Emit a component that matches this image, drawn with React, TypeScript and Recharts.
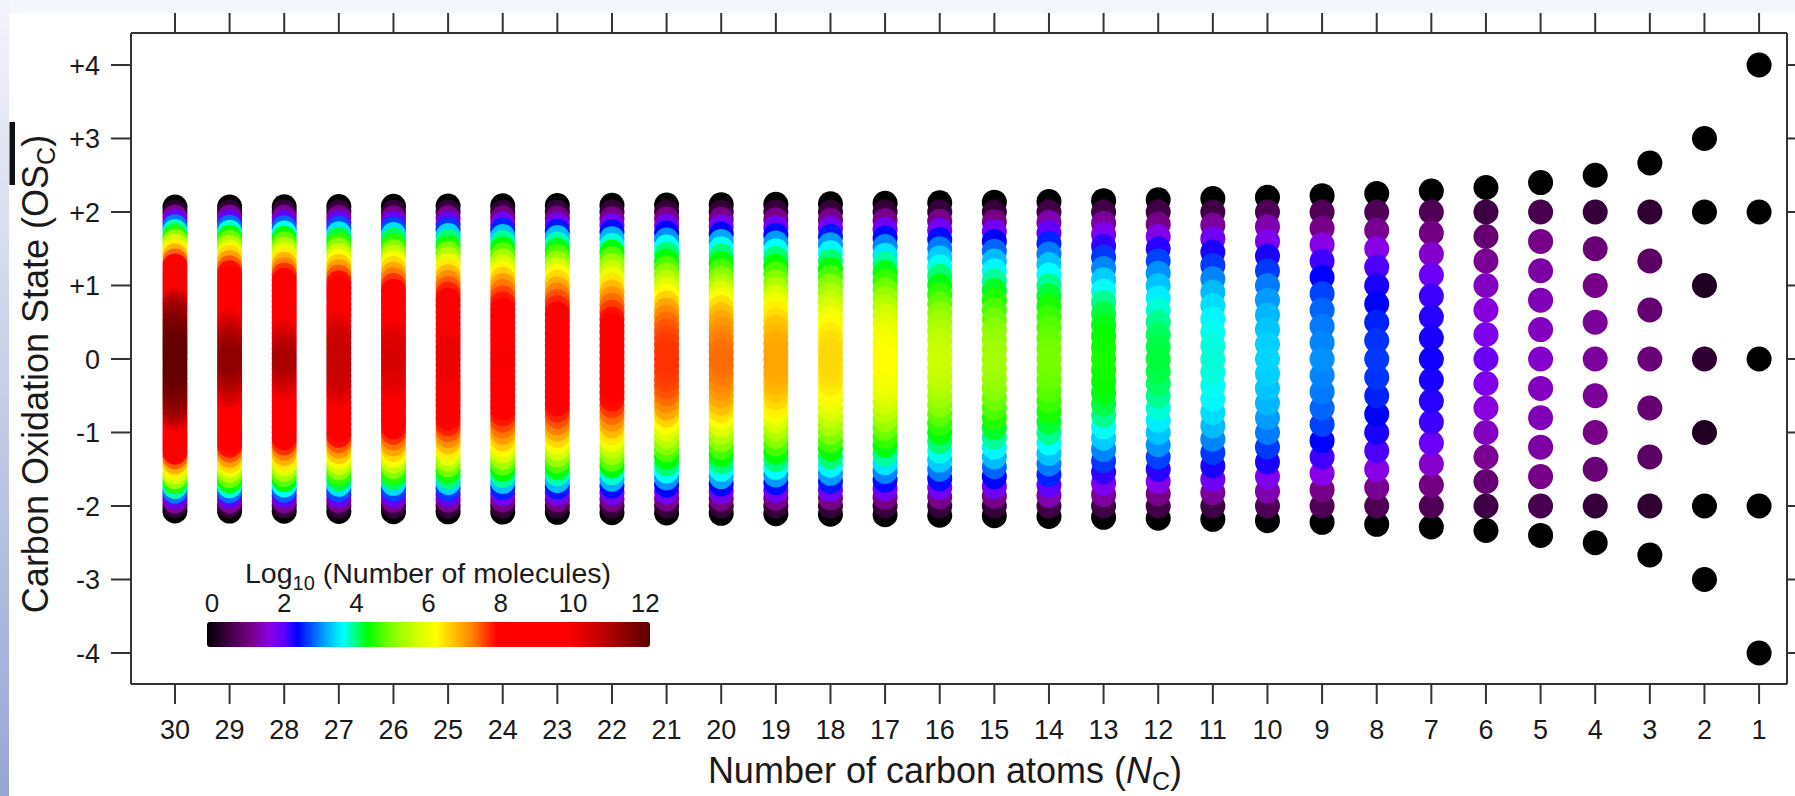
import { ScatterChart, Scatter, XAxis, YAxis } from 'recharts';

// log10(number of molecules) per carbon number, listed from the outermost
// oxidation state (±(2 + 2/Nc)) inward to OS = 0; each column is symmetric
const nc1 = [0, 0, 0];
const nc2 = [0, 0, 0.3, 0.45];
const nc3 = [0, 0.45, 0.9, 1.0, 1.05];
const nc4 = [0, 0.5, 1.05, 1.2, 1.28, 1.3];
const nc5 = [0, 0.7, 1.2, 1.35, 1.45, 1.5, 1.55];
const nc6 = [0, 0.6, 1.0, 1.25, 1.5, 1.65, 1.8, 1.95];
const nc7 = [0, 0.75, 1.15, 1.55, 1.95, 2.2, 2.3, 2.35, 2.38];
const nc8 = [0, 0.75, 1.25, 1.7, 2.15, 2.35, 2.45, 2.6, 2.68, 2.7];
const nc9 = [0, 0.75, 1.2, 1.7, 2.2, 2.45, 2.75, 2.9, 3.0, 3.05, 3.1];
const nc10 = [0, 0.75, 1.4, 1.8, 2.35, 2.7, 3.0, 3.15, 3.28, 3.36, 3.42, 3.45];
const nc11 = [0, 0.6, 1.3, 1.9, 2.35, 2.7, 3.05, 3.3, 3.5, 3.65, 3.73, 3.78, 3.8];
const nc12 = [0, 0.6, 1.2, 1.75, 2.3, 2.75, 3.1, 3.35, 3.6, 3.8, 3.98, 4.1, 4.17, 4.2];
const nc13 = [0, 0.6, 1.3, 1.8, 2.25, 2.7, 3.05, 3.4, 3.72, 3.98, 4.18, 4.3, 4.38, 4.42, 4.45];
const nc14 = [0, 0.6, 1.4, 2.05, 2.6, 3.0, 3.35, 3.7, 3.98, 4.22, 4.45, 4.62, 4.76, 4.86, 4.92, 4.95];
const nc15 = [0, 0.5, 1.2, 1.9, 2.45, 2.9, 3.3, 3.65, 3.95, 4.25, 4.5, 4.72, 4.9, 5.05, 5.17, 5.25, 5.3];
const nc16 = [0, 0.5, 1.2, 1.9, 2.5, 3.0, 3.4, 3.75, 4.05, 4.32, 4.58, 4.82, 5.05, 5.25, 5.4, 5.52, 5.6, 5.63];
const nc17 = [0, 0.5, 1.2, 1.9, 2.5, 3.05, 3.55, 3.95, 4.3, 4.6, 4.9, 5.2, 5.45, 5.68, 5.86, 6.0, 6.1, 6.16, 6.2];
const nc18 = [0, 0.5, 1.2, 1.9, 2.55, 3.15, 3.65, 4.05, 4.38, 4.7, 5.0, 5.3, 5.58, 5.82, 6.05, 6.22, 6.35, 6.44, 6.49, 6.5];
const nc19 = [0, 0.5, 1.2, 1.9, 2.5, 3.15, 3.7, 4.05, 4.35, 4.7, 5.05, 5.4, 5.75, 6.05, 6.3, 6.5, 6.65, 6.76, 6.84, 6.88, 6.9];
const nc20 = [0, 0.5, 1.2, 1.9, 2.45, 3.2, 3.7, 4.05, 4.35, 4.7, 5.05, 5.4, 5.8, 6.15, 6.45, 6.7, 6.88, 7.02, 7.13, 7.22, 7.27, 7.3];
const nc21 = [0, 0.5, 1.2, 1.9, 2.45, 3.1, 3.7, 4.05, 4.35, 4.72, 5.1, 5.48, 5.85, 6.2, 6.55, 6.88, 7.12, 7.3, 7.42, 7.5, 7.55, 7.58, 7.6];
const nc22 = [0, 0.5, 1.2, 1.9, 2.5, 3.25, 3.8, 4.35, 4.8, 5.2, 5.6, 6.0, 6.4, 6.75, 7.05, 7.3, 7.55, 7.78, 7.95, 8.12, 8.28, 8.4, 8.47, 8.5];
const nc23 = [0, 0.5, 1.2, 1.9, 2.55, 3.3, 3.9, 4.3, 4.75, 5.2, 5.7, 6.12, 6.5, 6.85, 7.2, 7.45, 7.68, 7.88, 8.1, 8.35, 8.6, 8.85, 9.05, 9.2, 9.3];
const nc24 = [0, 0.5, 1.2, 1.9, 2.6, 3.35, 3.95, 4.35, 4.8, 5.3, 5.8, 6.25, 6.6, 6.95, 7.25, 7.5, 7.75, 7.95, 8.2, 8.5, 8.8, 9.1, 9.4, 9.6, 9.72, 9.8];
const nc25 = [0, 0.5, 1.25, 2.0, 2.7, 3.45, 4.05, 4.45, 4.95, 5.45, 5.95, 6.35, 6.75, 7.1, 7.4, 7.7, 7.95, 8.25, 8.55, 8.85, 9.15, 9.42, 9.62, 9.78, 9.9, 9.96, 10.0];
const nc26 = [0, 0.5, 1.25, 2.0, 2.75, 3.5, 4.15, 4.55, 5.05, 5.55, 6.1, 6.5, 6.9, 7.25, 7.6, 7.9, 8.2, 8.5, 8.8, 9.1, 9.38, 9.62, 9.85, 10.02, 10.15, 10.23, 10.28, 10.3];
const nc27 = [0, 0.5, 1.25, 2.0, 2.8, 3.55, 4.2, 4.6, 5.1, 5.65, 6.15, 6.6, 7.0, 7.4, 7.78, 8.1, 8.4, 8.7, 9.0, 9.3, 9.58, 9.82, 10.05, 10.22, 10.38, 10.48, 10.55, 10.58, 10.6];
const nc28 = [0, 0.5, 1.3, 2.05, 2.9, 3.7, 4.35, 4.8, 5.35, 5.85, 6.35, 6.8, 7.2, 7.6, 7.92, 8.2, 8.45, 8.7, 8.95, 9.2, 9.4, 9.55, 9.68, 9.8, 10.0, 10.25, 10.5, 10.7, 10.85, 10.95];
const nc29 = [0, 0.45, 1.3, 2.05, 2.95, 3.8, 4.4, 4.9, 5.45, 6.0, 6.5, 6.95, 7.4, 7.8, 8.1, 8.4, 8.65, 8.9, 9.12, 9.32, 9.5, 9.66, 9.85, 10.1, 10.35, 10.6, 10.8, 10.98, 11.12, 11.22, 11.3];
const nc30 = [0, 0.4, 1.3, 2.0, 3.0, 3.9, 4.5, 5.2, 5.8, 6.3, 6.8, 7.35, 7.85, 8.2, 8.55, 8.9, 9.2, 9.5, 9.75, 10.2, 10.7, 10.95, 11.15, 11.3, 11.45, 11.55, 11.65, 11.73, 11.8, 11.85, 11.88, 11.9];

const carbonTicks = [30, 29, 28, 27, 26, 25, 24, 23, 22, 21, 20, 19, 18, 17, 16, 15, 14, 13, 12, 11, 10, 9, 8, 7, 6, 5, 4, 3, 2, 1];
const osTicks = [4, 3, 2, 1, 0, -1, -2, -3, -4];
const colorbarTicks = [0, 2, 4, 6, 8, 10, 12];

const profiles = [nc1, nc2, nc3, nc4, nc5, nc6, nc7, nc8, nc9, nc10, nc11, nc12, nc13, nc14, nc15,
  nc16, nc17, nc18, nc19, nc20, nc21, nc22, nc23, nc24, nc25, nc26, nc27, nc28, nc29, nc30];

// rainbow scale for log10(count), 0..12
const colorStops: [number, string][] = [
  [0, '#000000'], [0.7, '#4a0050'], [1.2, '#780088'], [1.7, '#8a00e6'], [2.1, '#5a00ff'],
  [2.45, '#0000ff'], [2.9, '#0064ff'], [3.3, '#00bcff'], [3.7, '#00ffff'], [4.0, '#00ff88'],
  [4.35, '#00ff00'], [5.0, '#80ff00'], [5.6, '#c8ff00'], [6.2, '#ffff00'], [6.7, '#ffc000'],
  [7.2, '#ff8000'], [7.85, '#ff0000'], [9.7, '#ff0000'], [10.6, '#c80000'], [11.2, '#980000'],
  [12, '#5a0000'],
];

const hex = (c: string) => [1, 3, 5].map((i) => parseInt(c.slice(i, i + 2), 16));

function logColor(v: number) {
  if (v <= colorStops[0][0]) return colorStops[0][1];
  for (let i = 1; i < colorStops.length; i++) {
    const [v1, c1] = colorStops[i];
    if (v <= v1) {
      const [v0, c0] = colorStops[i - 1];
      const t = (v - v0) / (v1 - v0);
      const a = hex(c0);
      const b = hex(c1);
      const rgb = a.map((x, j) => Math.round(x + (b[j] - x) * t));
      return `rgb(${rgb[0]},${rgb[1]},${rgb[2]})`;
    }
  }
  return colorStops[colorStops.length - 1][1];
}

// OS for Nc carbons comes in steps of 2/Nc; outer points first, low counts drawn underneath
const points = profiles
  .flatMap((half, i) => {
    const n = i + 1;
    const out: { nc: number; os: number; v: number }[] = [];
    half.forEach((v, k) => {
      const step = n + 1 - k;
      out.push({ nc: n, os: (2 * step) / n, v });
      if (step > 0) out.push({ nc: n, os: (-2 * step) / n, v });
    });
    return out;
  })
  .sort((a, b) => a.v - b.v);

const FONT = '"Liberation Sans", Arial, Helvetica, sans-serif';
const AXIS = '#333';
const tickText = { fill: '#1a1a1a', fontSize: 27, fontFamily: FONT };
const noLabel = () => '';

const X_DOMAIN: [number, number] = [0.489, 30.805];
const Y_DOMAIN: [number, number] = [-4.422, 4.435];

const Dot = (p: any) => <circle cx={p.cx} cy={p.cy} r={12.5} fill={logColor(p.payload.v)} />;

export default function App() {
  return (
    <div style={{ position: 'absolute', left: 0, top: 0, width: 1795, height: 796, overflow: 'hidden', background: '#fff' }}>
      <div style={{ position: 'absolute', left: 0, top: 0, width: 1795, height: 13, background: '#f5f6fc' }} />
      <div style={{ position: 'absolute', left: 0, top: 0, width: 9, height: 796, background: 'linear-gradient(#f3f4fb, #96a7d4)' }} />

      <div style={{ position: 'absolute', left: 0, top: 0 }}>
        <ScatterChart width={1795} height={796} margin={{ top: 32, right: 7, bottom: 52, left: 10 }}>
          <XAxis
            type="number"
            dataKey="nc"
            domain={X_DOMAIN}
            reversed
            allowDataOverflow
            ticks={carbonTicks}
            interval={0}
            height={60}
            tickSize={20}
            tickMargin={16}
            stroke={AXIS}
            strokeWidth={2}
            tick={tickText}
          />
          <XAxis
            xAxisId="top"
            orientation="top"
            type="number"
            dataKey="nc"
            domain={X_DOMAIN}
            reversed
            allowDataOverflow
            ticks={carbonTicks}
            interval={0}
            height={1}
            tickSize={20}
            tickFormatter={noLabel}
            stroke={AXIS}
            strokeWidth={2}
          />
          <YAxis
            type="number"
            dataKey="os"
            domain={Y_DOMAIN}
            allowDataOverflow
            ticks={osTicks}
            interval={0}
            width={121}
            tickSize={20}
            tickMargin={11}
            stroke={AXIS}
            strokeWidth={2}
            tick={tickText}
            tickFormatter={(v: number) => (v > 0 ? `+${v}` : `${v}`)}
          />
          <YAxis
            yAxisId="right"
            orientation="right"
            type="number"
            dataKey="os"
            domain={Y_DOMAIN}
            allowDataOverflow
            ticks={osTicks}
            interval={0}
            width={1}
            tickSize={20}
            tickFormatter={noLabel}
            stroke={AXIS}
            strokeWidth={2}
          />
          <Scatter data={points} shape={Dot} isAnimationActive={false} />
          <Scatter data={points.slice(0, 1)} xAxisId="top" yAxisId="right" shape={() => <g />} isAnimationActive={false} />
        </ScatterChart>
      </div>

      <svg width={1795} height={796} style={{ position: 'absolute', left: 0, top: 0, pointerEvents: 'none' }}>
        <defs>
          <linearGradient id="logScale" x1="0" y1="0" x2="1" y2="0">
            {colorStops.map(([v, c]) => (
              <stop key={v} offset={`${(v / 12) * 100}%`} stopColor={c} />
            ))}
          </linearGradient>
        </defs>

        {/* colour bar */}
        <text x={428} y={583} textAnchor="middle" fontSize={28.5} fontFamily={FONT} fill="#1a1a1a">
          Log<tspan fontSize={20} dy={7}>10</tspan>
          <tspan dy={-7}> (Number of molecules)</tspan>
        </text>
        {colorbarTicks.map((t) => (
          <text key={t} x={212 + t * 36.1} y={612} textAnchor="middle" fontSize={26} fontFamily={FONT} fill="#1a1a1a">
            {t}
          </text>
        ))}
        <rect x={207} y={622} width={443} height={25} rx={3} fill="url(#logScale)" />

        {/* axis titles */}
        <text x={945} y={783} textAnchor="middle" fontSize={36} fontFamily={FONT} fill="#1a1a1a">
          Number of carbon atoms (<tspan fontStyle="italic">N</tspan>
          <tspan fontSize={25} dy={7}>C</tspan>
          <tspan dy={-7}>)</tspan>
        </text>
        <text transform="translate(48, 374) rotate(-90)" textAnchor="middle" fontSize={36} fontFamily={FONT} fill="#1a1a1a">
          Carbon Oxidation State (OS<tspan fontSize={25} dy={7}>C</tspan>
          <tspan dy={-7}>)</tspan>
        </text>
        <rect x={9.5} y={122} width={5.5} height={63} fill="#111" />
      </svg>
    </div>
  );
}
